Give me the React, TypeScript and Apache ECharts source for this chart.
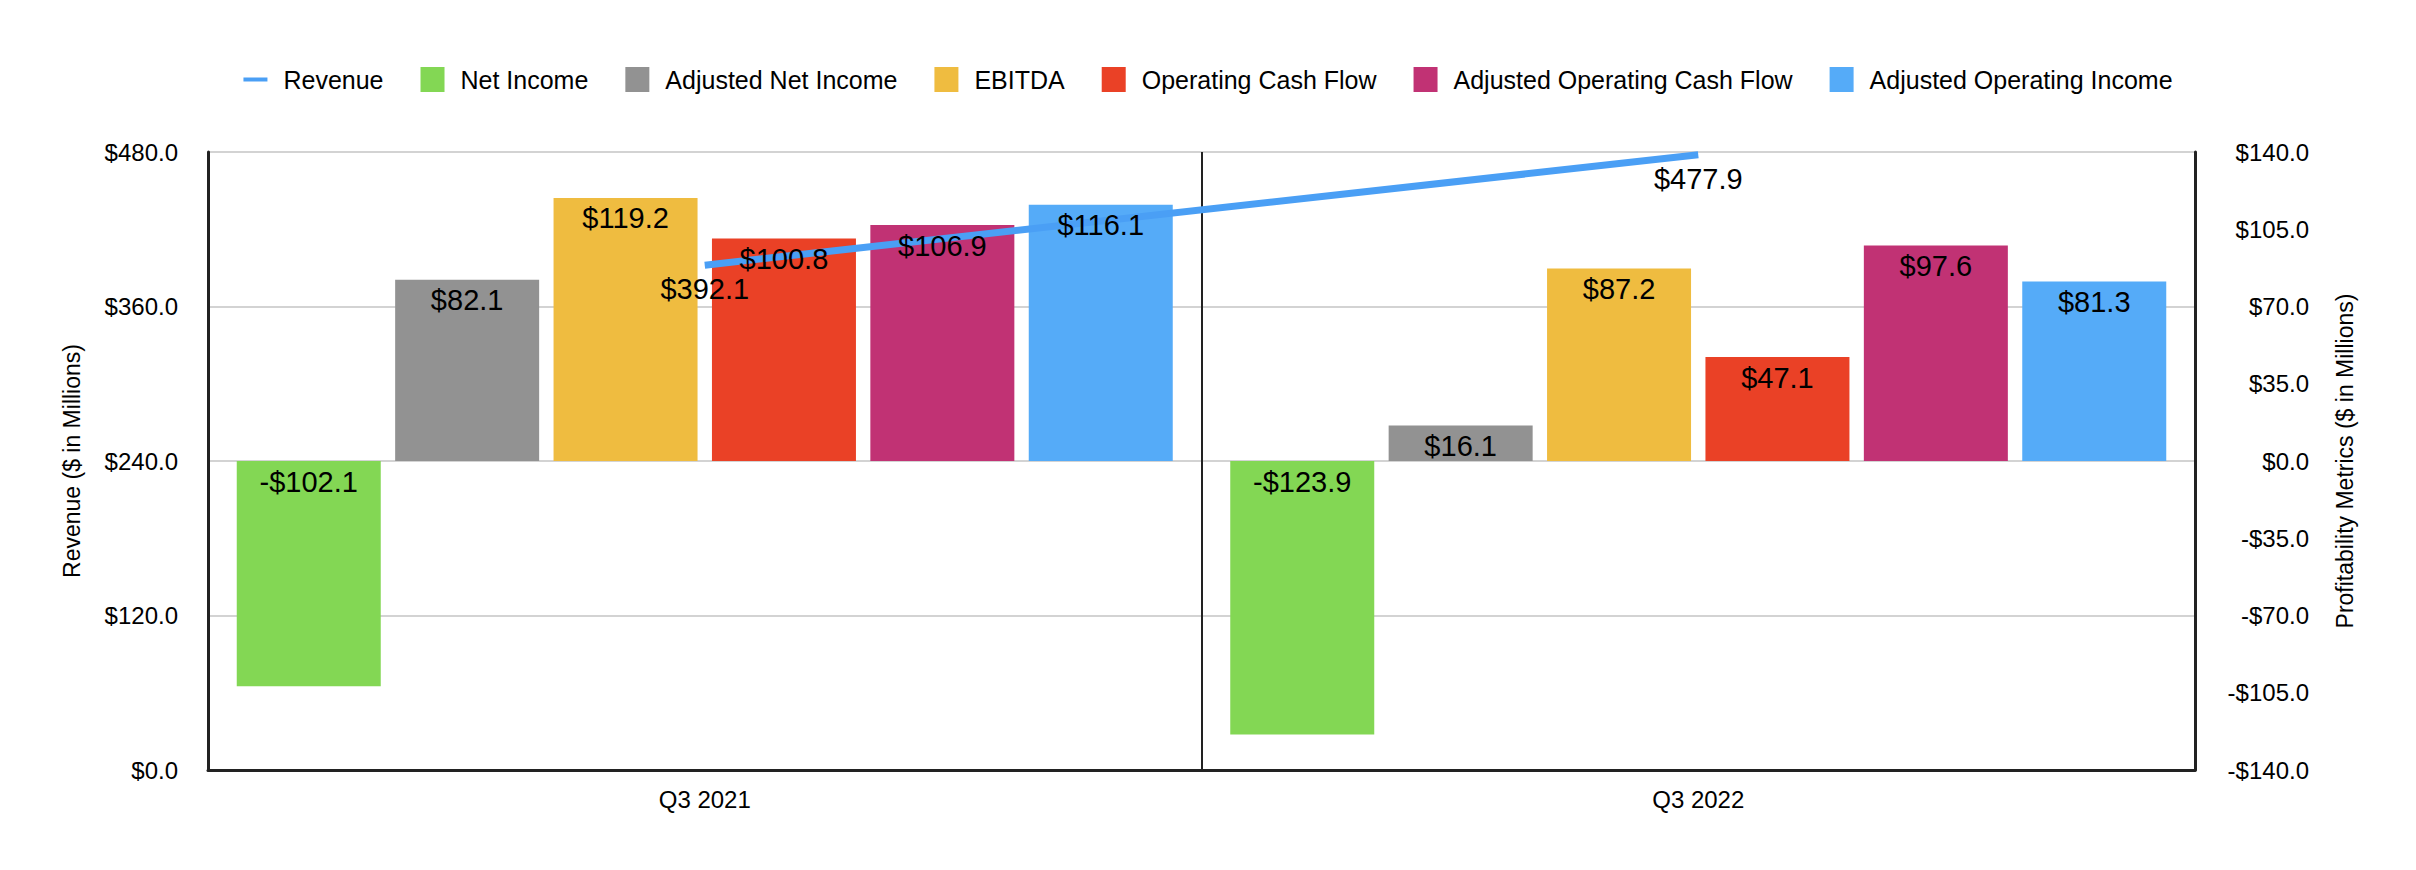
import React, { useEffect, useRef } from "react";
import * as echarts from "echarts";

const categories = ["Q3 2021", "Q3 2022"];
const revenue = [392.1, 477.9];
const netIncome = [-102.1, -123.9];
const adjNetIncome = [82.1, 16.1];
const ebitda = [119.2, 87.2];
const operatingCashFlow = [100.8, 47.1];
const adjOperatingCashFlow = [106.9, 97.6];
const adjOperatingIncome = [116.1, 81.3];

const barSeriesDefs = [
  { name: "Net Income", data: netIncome, color: "#83d754" },
  { name: "Adjusted Net Income", data: adjNetIncome, color: "#929292" },
  { name: "EBITDA", data: ebitda, color: "#efbc40" },
  { name: "Operating Cash Flow", data: operatingCashFlow, color: "#ea4126" },
  { name: "Adjusted Operating Cash Flow", data: adjOperatingCashFlow, color: "#c13274" },
  { name: "Adjusted Operating Income", data: adjOperatingIncome, color: "#55abf8" },
];

const FONT = "'Liberation Sans', Arial, Helvetica, sans-serif";
const LINE_ICON = "path://M0,0 M0,10.5 L24,10.5 L24,14.5 L0,14.5 Z M24,25";

const money = (v: number) => (v < 0 ? "-$" + Math.abs(v).toFixed(1) : "$" + v.toFixed(1));

const barLabel = {
  show: true,
  position: "insideTop",
  distance: 6,
  fontSize: 29,
  color: "#000",
  fontFamily: FONT,
  formatter: (p: any) => money(p.value),
};

export default function App() {
  const ref = useRef<HTMLDivElement>(null);
  useEffect(() => {
    if (!ref.current) return;
    const chart = echarts.init(ref.current, undefined, { renderer: "svg" });
    const option: any = {
      animation: false,
      backgroundColor: "#ffffff",
      textStyle: { fontFamily: FONT },
      legend: {
        top: 62,
        left: "center",
        itemWidth: 24,
        itemHeight: 25,
        itemGap: 37,
        textStyle: { fontSize: 25, color: "#000", fontFamily: FONT, padding: [0, 0, 0, 11] },
        data: [
          { name: "Revenue", icon: LINE_ICON, itemStyle: { color: "#4a9ff5" } },
          ...barSeriesDefs.map((s) => ({ name: s.name, icon: "rect" })),
        ],
      },
      grid: { left: 208, right: 221, top: 152, bottom: 100, containLabel: false },
      xAxis: [
        {
          type: "category",
          data: categories,
          axisLine: { show: true, lineStyle: { color: "#222", width: 3 } },
          axisTick: { show: false },
          splitLine: { show: true, lineStyle: { color: "#222", width: 2 } },
          axisLabel: { fontSize: 24, color: "#000", margin: 17, fontFamily: FONT },
        },
        {
          type: "category",
          data: categories,
          position: "bottom",
          show: false,
        },
      ],
      yAxis: [
        {
          type: "value",
          position: "left",
          min: 0,
          max: 480,
          interval: 120,
          axisLine: { show: true, lineStyle: { color: "#222", width: 3 } },
          axisTick: { show: false },
          splitLine: { show: true, lineStyle: { color: "#c4c4c4", width: 1.5 } },
          axisLabel: { fontSize: 24, color: "#000", margin: 30, formatter: (v: number) => money(v), fontFamily: FONT },
          name: "Revenue ($ in Millions)",
          nameLocation: "middle",
          nameGap: 125,
          nameTextStyle: { fontSize: 23, color: "#000", fontFamily: FONT },
        },
        {
          type: "value",
          position: "right",
          min: -140,
          max: 140,
          interval: 35,
          axisLine: { show: true, lineStyle: { color: "#222", width: 3 } },
          axisTick: { show: false },
          splitLine: { show: false },
          axisLabel: {
            fontSize: 24,
            color: "#000",
            margin: 114,
            align: "right",
            formatter: (v: number) => money(v),
            fontFamily: FONT,
          },
          name: "Profitability Metrics ($ in Millions)",
          nameLocation: "middle",
          nameGap: 138,
          nameTextStyle: { fontSize: 23, color: "#000", fontFamily: FONT },
        },
      ],
      series: [
        ...barSeriesDefs.map((s) => ({
          name: s.name,
          type: "bar",
          xAxisIndex: 0,
          yAxisIndex: 1,
          data: s.data,
          barWidth: 144,
          barGap: "10%",
          itemStyle: { color: s.color },
          z: 2,
        })),
        {
          name: "Revenue",
          type: "line",
          yAxisIndex: 0,
          data: revenue,
          symbol: "none",
          lineStyle: { color: "#4a9ff5", width: 7 },
          itemStyle: { color: "#4a9ff5" },
          z: 4,
        },
        ...barSeriesDefs.map((s) => ({
          name: s.name + " label",
          type: "bar",
          xAxisIndex: 1,
          yAxisIndex: 1,
          data: s.data,
          barWidth: 144,
          barGap: "10%",
          itemStyle: { color: "transparent" },
          silent: true,
          label: barLabel,
          z: 6,
        })),
        {
          name: "Revenue labels",
          type: "scatter",
          yAxisIndex: 0,
          data: revenue,
          symbolSize: 1,
          itemStyle: { color: "transparent", opacity: 1 },
          silent: true,
          label: {
            show: true,
            position: "bottom",
            distance: 9,
            fontSize: 29,
            color: "#000",
            fontFamily: FONT,
            formatter: (p: any) => money(p.value),
          },
          z: 6,
        },
      ],
    };
    chart.setOption(option);
    return () => chart.dispose();
  }, []);
  return (
    <div
      ref={ref}
      style={{ position: "fixed", left: 0, top: 0, width: 2416, height: 870, background: "#fff" }}
    />
  );
}
